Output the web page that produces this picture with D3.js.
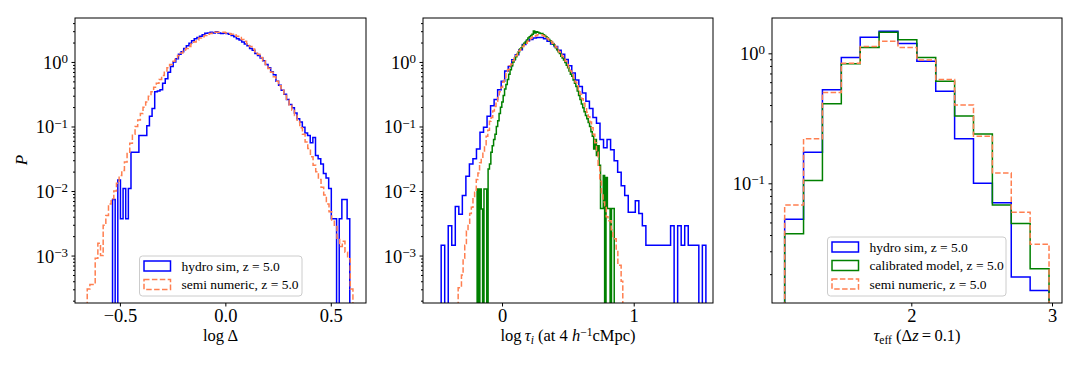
<!DOCTYPE html>
<html>
<head>
<meta charset="utf-8">
<title>Flux PDF comparison</title>
<script src="https://cdn.jsdelivr.net/npm/d3@7"></script>
<style>
  body { margin: 0; background: #fff; }
  svg text { font-family: "Liberation Serif", "DejaVu Serif", serif; }
</style>
</head>
<body>
<div id="chart"></div>
<script>

// ---------- data ----------
var nameHydro = "hydro sim, z = 5.0";
var nameCalib = "calibrated model, z = 5.0";
var nameSemi = "semi numeric, z = 5.0";

// panel 1 : log Delta, values are log10(P), null = empty bin
var deltaHydroStart = -0.535, deltaHydroWidth = 0.0125;
var deltaHydroLogP = [
  -2.13, null, -1.83, -2.43, -1.96, -2.43, -1.96, -1.40, -1.40, -1.40,
  -1.14, -1.14, -1.14, -0.99, -0.84, -0.72, -0.46, -0.45, -0.43, -0.33,
  -0.26, -0.16, -0.07, 0.00, 0.05, 0.12, 0.16, 0.21, 0.25, 0.29,
  0.33, 0.36, 0.38, 0.40, 0.42, 0.445, 0.45, 0.46, 0.45, 0.47,
  0.45, 0.44, 0.445, 0.44, 0.43, 0.41, 0.39, 0.36, 0.34, 0.31,
  0.28, 0.25, 0.21, 0.18, 0.13, 0.10, 0.06, 0.02, -0.04, -0.09,
  -0.15, -0.20, -0.30, -0.36, -0.44, -0.50, -0.58, -0.66, -0.71, -0.79,
  -0.88, -0.93, -1.01, -1.10, -1.14, -1.25, -1.17, -1.45, -1.50, -1.58,
  -1.73, -1.80, -1.96, -2.43, -2.43, null, -2.43, -2.13, -2.13, -2.43
];
var deltaSemiStart = -0.655, deltaSemiWidth = 0.0126;
var deltaSemiLogP = [
  -3.52, -3.45, -3.45, -3.04, -2.81, -3.00, -2.53, -2.38, -2.20, -2.12,
  -2.00, -1.88, -1.76, -1.68, -1.55, -1.40, -1.26, -1.12, -1.00, -0.90,
  -0.80, -0.70, -0.62, -0.53, -0.46, -0.39, -0.33, -0.27, -0.21, -0.14,
  -0.09, -0.04, 0.01, 0.06, 0.10, 0.14, 0.18, 0.21, 0.24, 0.28,
  0.31, 0.34, 0.37, 0.39, 0.41, 0.43, 0.44, 0.45, 0.46, 0.46,
  0.46, 0.46, 0.45, 0.44, 0.43, 0.42, 0.40, 0.38, 0.35, 0.32,
  0.28, 0.24, 0.20, 0.16, 0.12, 0.07, 0.02, -0.04, -0.10, -0.16,
  -0.23, -0.30, -0.37, -0.44, -0.52, -0.59, -0.67, -0.75, -0.83, -0.92,
  -1.02, -1.12, -1.24, -1.34, -1.47, -1.60, -1.70, -1.82, -1.94, -2.06,
  -2.20, -2.32, -2.45, -2.55, -2.73, -2.86, -2.78, -2.95, -3.05, -3.52
];

// panel 2 : log tau_i
var tauHydroStart = -0.462, tauHydroWidth = 0.0268;
var tauHydroLogP = [
  -2.84, null, -2.54, -2.84, -2.24, -2.36, -2.07, -1.77, -1.58, -1.50,
  -1.35, -1.09, -1.01, -0.84, -0.68, -0.58, -0.43, -0.30, -0.14, -0.07,
  0.035, 0.11, 0.19, 0.27, 0.32, 0.35, 0.37, 0.38, 0.38, 0.36,
  0.32, 0.28, 0.24, 0.18, 0.12, 0.04, -0.06, -0.17, -0.28, -0.38,
  -0.48, -0.61, -0.72, -0.86, -0.95, -1.20, -1.33, -1.20, -1.36, -1.53,
  -1.71, -1.92, -2.07, -2.33, -2.33, -2.15, -2.35, -2.54, -2.84, -2.84,
  -2.84, -2.84, -2.84, -2.84, -2.84, -2.54, null, -2.54, -2.84, -2.54,
  -2.84, -2.84, -2.84, null, -2.84
];
var tauCalibStart = -0.189, tauCalibWidth = 0.01041;
var tauCalibLogP = [
  -1.97, null, -1.97, -2.28, null, -1.97, -1.97, null, -1.66, -1.58,
  -1.40, -1.30, -1.20, -1.12, -1.00, -0.91, -0.80, -0.70, -0.62, -0.52,
  -0.42, -0.35, -0.27, -0.19, -0.12, -0.06, 0.00, 0.04, 0.08, 0.12,
  0.16, 0.20, 0.22, 0.26, 0.29, 0.31, 0.34, 0.37, 0.39, 0.41,
  0.43, 0.48, 0.45, 0.47, 0.46, 0.45, 0.44, 0.44, 0.42, 0.41,
  0.39, 0.37, 0.35, 0.33, 0.31, 0.28, 0.26, 0.22, 0.19, 0.16,
  0.13, 0.09, 0.06, 0.03, -0.01, -0.05, -0.09, -0.14, -0.19, -0.22,
  -0.28, -0.33, -0.38, -0.45, -0.52, -0.58, -0.65, -0.71, -0.77, -0.83,
  -0.88, -0.94, -1.00, -1.08, -1.15, -1.35, -1.20, -1.45, -1.30, -1.60,
  -2.27, -2.27, -1.76, null, -1.79, -2.27, -2.27, null, -2.27, -2.27
];
var tauSemiStart = -0.333, tauSemiWidth = 0.0125;
var tauSemiLogP = [
  -3.50, -3.50, -3.30, -3.04, -2.84, -2.62, -2.50, -2.35, -2.25, -2.12,
  -2.02, -1.82, -1.72, -1.56, -1.50, -1.38, -1.30, -1.15, -1.06, -0.92,
  -0.86, -0.76, -0.69, -0.61, -0.55, -0.46, -0.39, -0.31, -0.24, -0.17,
  -0.12, -0.06, -0.03, 0.02, 0.06, 0.10, 0.14, 0.18, 0.21, 0.24,
  0.27, 0.29, 0.32, 0.35, 0.37, 0.39, 0.40, 0.41, 0.42, 0.42,
  0.42, 0.41, 0.40, 0.38, 0.36, 0.34, 0.32, 0.29, 0.26, 0.23,
  0.20, 0.16, 0.12, 0.09, 0.05, 0.01, -0.04, -0.09, -0.14, -0.19,
  -0.25, -0.31, -0.37, -0.43, -0.50, -0.57, -0.64, -0.71, -0.78, -0.85,
  -0.93, -1.02, -1.12, -1.25, -1.40, -1.60, -1.85, -2.05, -2.17, -2.23,
  -2.40, -2.46, -2.46, -2.60, -2.74, -2.74, -2.90, -3.15, -3.15, -3.40
];

// panel 3 : tau_eff, values are P
var effStart = 1.10, effWidth = 0.1342;
var effHydroP = [0.053, 0.173, 0.525, 0.93, 1.33, 1.48, 1.19, 0.87, 0.51, 0.22, 0.10, 0.071, 0.019, 0.015];
var effCalibP = [0.041, 0.105, 0.41, 0.83, 1.11, 1.45, 1.27, 0.93, 0.61, 0.33, 0.24, 0.068, 0.049, 0.022];
var effSemiP = [0.068, 0.22, 0.50, 0.84, 1.13, 1.24, 1.11, 0.89, 0.63, 0.40, 0.23, 0.12, 0.06, 0.034];

// ---------- drawing ----------
var blue = "#0000ff", green = "#008000", coral = "#ff7f50";
var serif = "Liberation Serif, DejaVu Serif, serif";

function edges(start, width, n) {
  return d3.range(n + 1).map(function(i) { return start + i * width; });
}
function fromLog(arr) {
  return arr.map(function(v) { return v === null ? null : Math.pow(10, v); });
}

var svg = d3.select("#chart").append("svg")
  .attr("width", 1079).attr("height", 368)
  .attr("font-family", serif);

function minorTicks(dom) {
  var out = [];
  var lo = Math.floor(Math.log10(dom[0])), hi = Math.ceil(Math.log10(dom[1]));
  for (var e = lo; e <= hi; e++) {
    for (var k = 2; k <= 9; k++) {
      var v = k * Math.pow(10, e);
      if (v >= dom[0] && v <= dom[1]) out.push(v);
    }
  }
  return out;
}

function drawPanel(p) {
  var g = svg.append("g").attr("transform", "translate(" + p.left + "," + p.top + ")");
  var x = d3.scaleLinear().domain(p.xDomain).range([0, p.w]);
  var y = d3.scaleLog().domain(p.yDomain).range([p.h, 0]);

  g.append("clipPath").attr("id", "clip" + p.id)
    .append("rect").attr("width", p.w).attr("height", p.h);
  var plot = g.append("g").attr("clip-path", "url(#clip" + p.id + ")");

  var line = d3.line()
    .x(function(d) { return x(d[0]); })
    .y(function(d) { return d[1] === null ? p.h + 20 : y(d[1]); });

  p.series.forEach(function(s) {
    var pts = [[s.edges[0], null]];
    s.vals.forEach(function(v, i) {
      pts.push([s.edges[i], v]);
      pts.push([s.edges[i + 1], v]);
    });
    pts.push([s.edges[s.edges.length - 1], null]);
    plot.append("path")
      .attr("d", line(pts))
      .attr("fill", "none")
      .attr("stroke", s.color)
      .attr("stroke-width", 1.5)
      .attr("stroke-linejoin", "miter")
      .attr("stroke-dasharray", s.dash ? "5.5,2.4" : null);
  });

  // x axis
  var gx = g.append("g").attr("transform", "translate(0," + p.h + ")")
    .call(d3.axisBottom(x).tickValues(p.xTicks).tickFormat(p.xFmt)
      .tickSizeInner(3.5).tickSizeOuter(0).tickPadding(3));
  gx.select(".domain").remove();
  gx.attr("font-family", serif);
  gx.selectAll("text").attr("font-size", 18.5).attr("dy", "0.7em");

  // y axis minor + major
  var gym = g.append("g")
    .call(d3.axisLeft(y).tickValues(minorTicks(p.yDomain)).tickFormat("")
      .tickSizeInner(2).tickSizeOuter(0));
  gym.select(".domain").remove();

  var gy = g.append("g")
    .call(d3.axisLeft(y).tickValues(p.yTicks).tickFormat("")
      .tickSizeInner(3.5).tickSizeOuter(0).tickPadding(3.5));
  gy.select(".domain").remove();
  gy.attr("font-family", serif);
  gy.selectAll(".tick text").each(function(d) {
    var t = d3.select(this).attr("font-size", 18.5).attr("dy", "0.35em");
    var ex = Math.round(Math.log10(d));
    t.append("tspan").text("10");
    t.append("tspan").attr("dy", "-0.45em").attr("font-size", "0.7em")
      .text(ex < 0 ? "\u2212" + (-ex) : String(ex));
  });

  g.append("rect").attr("width", p.w).attr("height", p.h)
    .attr("fill", "none").attr("stroke", "#000").attr("stroke-width", 1);

  // x label
  var xl = g.append("text").attr("x", p.w / 2).attr("y", p.h + 38)
    .attr("text-anchor", "middle").attr("font-size", 16.5);
  p.xlabel(xl);

  // legend
  var lg = p.legend;
  if (!lg) return;
  var L = g.append("g").attr("transform", "translate(" + lg.x + "," + lg.y + ")");
  L.append("rect").attr("width", lg.w).attr("height", lg.h).attr("rx", 3)
    .attr("fill", "#fff").attr("fill-opacity", 0.8)
    .attr("stroke", "#cccccc").attr("stroke-width", 1);
  p.series.forEach(function(s, i) {
    var cy = 10 + i * 18.5;
    L.append("rect").attr("x", 4.5).attr("y", cy - 5).attr("width", 26.5).attr("height", 10)
      .attr("fill", "none").attr("stroke", s.color).attr("stroke-width", 1.5)
      .attr("stroke-dasharray", s.dash ? "5.5,2.4" : null);
    L.append("text").attr("x", 42).attr("y", cy).attr("dy", "0.35em")
      .attr("font-size", 13.5).text(s.name);
  });
}

var yDomainTop = [1.84e-4, 4.8];

drawPanel({
  id: 1, left: 75, top: 18, w: 291, h: 285,
  xDomain: [-0.713, 0.667], yDomain: yDomainTop,
  xTicks: [-0.5, 0, 0.5], xFmt: d3.format(".1f"),
  yTicks: [1e-3, 1e-2, 1e-1, 1],
  series: [
    { name: nameHydro, color: blue, edges: edges(deltaHydroStart, deltaHydroWidth, deltaHydroLogP.length), vals: fromLog(deltaHydroLogP) },
    { name: nameSemi, color: coral, dash: true, edges: edges(deltaSemiStart, deltaSemiWidth, deltaSemiLogP.length), vals: fromLog(deltaSemiLogP) }
  ],
  legend: { x: 64.5, y: 238, w: 162.5, h: 40 },
  xlabel: function(t) {
    t.append("tspan").text("log\u2009\u0394");
  }
});

drawPanel({
  id: 2, left: 423, top: 18, w: 290, h: 285,
  xDomain: [-0.6, 1.602], yDomain: yDomainTop,
  xTicks: [0, 1], xFmt: d3.format("d"),
  yTicks: [1e-3, 1e-2, 1e-1, 1],
  series: [
    { name: nameHydro, color: blue, edges: edges(tauHydroStart, tauHydroWidth, tauHydroLogP.length), vals: fromLog(tauHydroLogP) },
    { name: nameCalib, color: green, edges: edges(tauCalibStart, tauCalibWidth, tauCalibLogP.length), vals: fromLog(tauCalibLogP) },
    { name: nameSemi, color: coral, dash: true, edges: edges(tauSemiStart, tauSemiWidth, tauSemiLogP.length), vals: fromLog(tauSemiLogP) }
  ],
  legend: null,
  xlabel: function(t) {
    t.append("tspan").text("log\u2009");
    t.append("tspan").attr("font-style", "italic").text("\u03c4");
    t.append("tspan").attr("font-style", "italic").attr("font-size", "0.7em").attr("dy", "0.25em").text("i");
    t.append("tspan").attr("dy", "-0.18em").text(" (at 4 ");
    t.append("tspan").attr("font-style", "italic").text("h");
    t.append("tspan").attr("font-size", "0.7em").attr("dy", "-0.45em").text("\u22121");
    t.append("tspan").attr("dy", "0.32em").text("cMpc)");
  }
});

drawPanel({
  id: 3, left: 772, top: 18, w: 290, h: 285,
  xDomain: [1.010, 3.071], yDomain: [0.012, 1.87],
  xTicks: [2, 3], xFmt: d3.format("d"),
  yTicks: [0.1, 1],
  series: [
    { name: nameHydro, color: blue, edges: edges(effStart, effWidth, effHydroP.length), vals: effHydroP },
    { name: nameCalib, color: green, edges: edges(effStart, effWidth, effCalibP.length), vals: effCalibP },
    { name: nameSemi, color: coral, dash: true, edges: edges(effStart, effWidth, effSemiP.length), vals: effSemiP }
  ],
  legend: { x: 55.5, y: 219, w: 178.5, h: 59 },
  xlabel: function(t) {
    t.append("tspan").attr("font-style", "italic").text("\u03c4");
    t.append("tspan").attr("font-size", "0.7em").attr("dy", "0.25em").text("eff");
    t.append("tspan").attr("dy", "-0.18em").text(" (\u0394");
    t.append("tspan").attr("font-style", "italic").text("z");
    t.append("tspan").text("\u2009=\u20090.1)");
  }
});

// shared y label
svg.append("text").attr("transform", "translate(27,160) rotate(-90)")
  .attr("text-anchor", "middle").attr("font-size", 17).attr("font-style", "italic").text("P");

</script>
</body>
</html>
